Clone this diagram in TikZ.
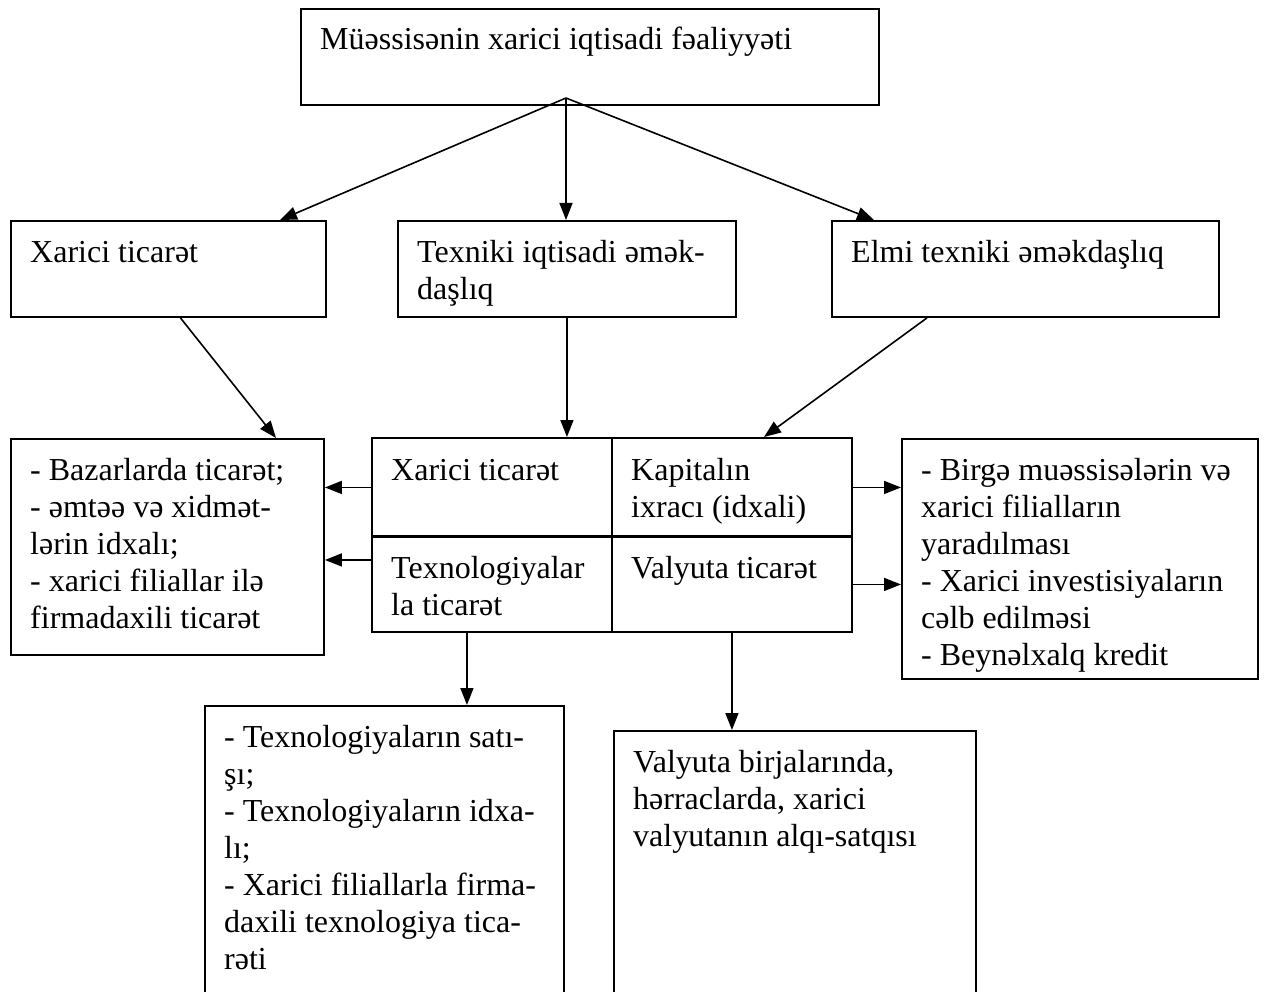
\documentclass[tikz,border=0pt]{standalone}
\usepackage{fontspec}
\setmainfont{Liberation Serif}
\usetikzlibrary{arrows.meta}
\begin{document}
\begin{tikzpicture}[x=1pt,y=-1pt,
  box/.style={draw, line width=1.9pt, rectangle, inner sep=0pt, anchor=north west},
  txt/.style={anchor=base west, align=left, inner sep=0pt, font=\fontsize{32}{37}\selectfont},
  arr/.style={line width=1.6pt, -{Triangle[length=17pt,width=13pt]}}]
\useasboundingbox (0,0) rectangle (1268,992);
\clip (0,0) rectangle (1268,992);
% top
\node[box, minimum width=578pt, minimum height=96pt] (top) at (300,8) {};
\node[txt] (ttop) at (320,50) {Müəssisənin xarici iqtisadi fəaliyyəti};
% second row
\node[box, minimum width=315pt, minimum height=96pt] (b1) at (10,220) {};
\node[txt] (tb1) at (30,262) {Xarici ticarət};
\node[box, minimum width=338pt, minimum height=96pt] (b2) at (397,220) {};
\node[txt] (tb2) at (417,299) {Texniki iqtisadi əmək-\\daşlıq};
\node[box, minimum width=387pt, minimum height=96pt] (b3) at (831,220) {};
\node[txt] (tb3) at (851,262) {Elmi texniki əməkdaşlıq};
% third row
\node[box, minimum width=313pt, minimum height=216pt] (L) at (10,438) {};
\node[txt] (tL) at (30,628) {- Bazarlarda ticarət;\\- əmtəə və xidmət-\\lərin idxalı;\\- xarici filiallar ilə\\firmadaxili ticarət};
\node[box, minimum width=240pt, minimum height=99pt] (c1) at (371,437) {};
\node[box, minimum width=240pt, minimum height=99pt] (c2) at (611,437) {};
\node[box, minimum width=240pt, minimum height=95pt] (c3) at (371,536) {};
\node[box, minimum width=240pt, minimum height=95pt] (c4) at (611,536) {};
\draw[line width=3pt] (c3.north west) -- (c4.north east);
\node[txt] (tc1) at (391,480) {Xarici ticarət};
\node[txt] (tc2) at (631,517) {Kapitalın\\ixracı (idxali)};
\node[txt] (tc3) at (391,615) {Texnologiyalar\\la ticarət};
\node[txt] (tc4) at (631,578) {Valyuta ticarət};
\node[box, minimum width=356pt, minimum height=240pt] (R) at (901,438) {};
\node[txt] (tR) at (921,665) {- Birgə muəssisələrin və\\xarici filialların\\yaradılması\\- Xarici investisiyaların\\cəlb edilməsi\\- Beynəlxalq kredit};
% fourth row
\node[box, minimum width=359pt, minimum height=320pt] (D1) at (204,705) {};
\node[txt] (tD1) at (224,969) {- Texnologiyaların satı-\\şı;\\- Texnologiyaların idxa-\\lı;\\- Xarici filiallarla firma-\\daxili texnologiya tica-\\rəti};
\node[box, minimum width=362pt, minimum height=300pt] (D2) at (613,730) {};
\node[txt] (tD2) at (633,846) {Valyuta birjalarında,\\hərraclarda, xarici\\valyutanın alqı-satqısı};
% arrows
\coordinate (apex) at (566,98);
\draw[arr] (apex) -- ([xshift=270pt]b1.north west);
\draw[arr] (apex) -- (apex |- b2.north);
\draw[arr] (apex) -- ([xshift=43pt]b3.north west);
\draw[arr] ([xshift=12pt]b1.south) -- ([xshift=266pt]L.north west);
\draw[arr] (b2.south) -- (b2.south |- c1.north);
\draw[arr] ([xshift=96pt]b3.south west) -- ([xshift=153pt]c2.north west);
\draw[arr] (c1.west) -- (c1.west -| L.east);
\draw[arr] ([yshift=24.5pt]c3.west) -- ([yshift=24.5pt]c3.west -| L.east);
\draw[arr] (c2.east) -- (c2.east -| R.west);
\draw[arr] (c4.east) -- (c4.east -| R.west);
\draw[arr] ([xshift=-25pt]c3.south) -- ([xshift=-25pt]c3.south |- D1.north);
\draw[arr] (c4.south) -- (c4.south |- D2.north);
\end{tikzpicture}
\end{document}
